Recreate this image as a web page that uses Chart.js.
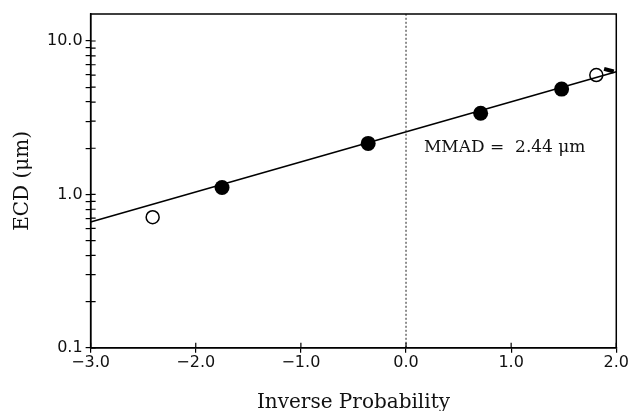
<!DOCTYPE html>
<html>
<head>
<meta charset="utf-8">
<script src="https://cdn.jsdelivr.net/npm/chart.js@4/dist/chart.umd.min.js"></script>
<style>
  body { margin: 0; background: #fff; }
  #wrap { width: 629px; height: 411px; }
</style>
</head>
<body>
<div id="wrap"><canvas id="ecd-chart"></canvas></div>
<script>
// datos
const filledX = [-1.75, -0.36, 0.71, 1.48];
const filledY = [1.11, 2.15, 3.38, 4.86];
const openX = [-2.41, 1.81];
const openY = [0.71, 6.0];
const markX = [1.93];
const markY = [6.45];
const fitX = [-3.0, 2.0];
const fitY = [0.66, 6.3];
const refX = [0.0, 0.0];
const refY = [0.1, 15];
const xTicks = [-3, -2, -1, 0, 1, 2];
const yTicks = [0.1, 0.2, 0.3, 0.4, 0.5, 0.6, 0.7, 0.8, 0.9, 1, 2, 3, 4, 5, 6, 7, 8, 9, 10];
const yLabels = [0.1, 1, 10];
const noteText = 'MMAD =  2.44 \u03BCm';
const notePos = [0.17, 2.03];

const toPoints = (xs, ys) => xs.map((x, i) => ({ x: x, y: ys[i] }));

// marco completo y marcas hacia dentro
const framePlugin = {
    id: 'frame',
    afterDraw(chart) {
        const ctx = chart.ctx;
        const a = chart.chartArea;
        const xs = chart.scales.x;
        const ys = chart.scales.y;
        ctx.save();
        ctx.strokeStyle = '#000';
        ctx.lineWidth = 1.5;
        ctx.strokeRect(a.left, a.top, a.right - a.left, a.bottom - a.top);
        ctx.lineWidth = 1.2;
        ctx.beginPath();
        xs.ticks.forEach(t => {
            const px = xs.getPixelForValue(t.value);
            ctx.moveTo(px, a.bottom);
            ctx.lineTo(px, a.bottom - 5);
        });
        ys.ticks.forEach(t => {
            const py = ys.getPixelForValue(t.value);
            ctx.moveTo(a.left, py);
            ctx.lineTo(a.left + 5, py);
        });
        ctx.stroke();
        // anotación
        ctx.fillStyle = '#111';
        ctx.font = '17px "DejaVu Serif"';
        ctx.textBaseline = 'middle';
        ctx.textAlign = 'left';
        ctx.fillText(noteText, xs.getPixelForValue(notePos[0]), ys.getPixelForValue(notePos[1]));
        ctx.restore();
    }
};

const ctx = document.getElementById('ecd-chart');
new Chart(ctx, {
    type: 'scatter',
    data: {
        datasets: [
            {
                data: toPoints(refX, refY),
                showLine: true,
                borderColor: '#222',
                borderWidth: 1,
                borderDash: [2, 2],
                pointRadius: 0
            },
            {
                data: toPoints(fitX, fitY),
                showLine: true,
                borderColor: '#000',
                borderWidth: 1.6,
                pointRadius: 0
            },
            {
                data: toPoints(filledX, filledY),
                backgroundColor: '#000',
                borderColor: '#000',
                pointRadius: 7.5,
                borderWidth: 0
            },
            {
                data: toPoints(openX, openY),
                backgroundColor: '#fff',
                borderColor: '#000',
                borderWidth: 1.5,
                pointRadius: 6.5
            },
            {
                data: toPoints(markX, markY),
                pointStyle: 'line',
                borderColor: '#000',
                borderWidth: 4,
                pointRadius: 5,
                rotation: 15
            }
        ]
    },
    options: {
        responsive: true,
        maintainAspectRatio: false,
        animation: false,
        clip: false,
        layout: { padding: { top: 14, right: 4, left: 10, bottom: -4 } },
        plugins: {
            legend: { display: false },
            tooltip: { enabled: false }
        },
        scales: {
            x: {
                type: 'linear',
                min: -3,
                max: 2,
                afterBuildTicks: scale => { scale.ticks = xTicks.map(v => ({ value: v })); },
                ticks: {
                    color: '#111',
                    font: { family: '"DejaVu Sans"', size: 16 },
                    padding: 0,
                    maxRotation: 0,
                    callback: v => (v < 0 ? '\u2212' + Math.abs(v).toFixed(1) : v.toFixed(1))
                },
                grid: { drawOnChartArea: false, drawTicks: true, tickLength: 5, color: '#000', lineWidth: 1.2 },
                border: { display: true, color: '#000', width: 1.5 },
                title: {
                    display: true,
                    text: 'Inverse Probability',
                    color: '#111',
                    font: { family: '"DejaVu Serif"', size: 20 },
                    padding: { top: 19, bottom: 0 }
                }
            },
            y: {
                type: 'logarithmic',
                min: 0.1,
                max: 15,
                afterBuildTicks: scale => { scale.ticks = yTicks.map(v => ({ value: v })); },
                ticks: {
                    color: '#111',
                    font: { family: '"DejaVu Sans"', size: 16 },
                    padding: 3,
                    autoSkip: false,
                    callback: v => (yLabels.some(l => Math.abs(l - v) < 1e-9) ? v.toFixed(1) : '')
                },
                grid: { drawOnChartArea: false, drawTicks: true, tickLength: 5, color: '#000', lineWidth: 1.2 },
                border: { display: true, color: '#000', width: 1.5 },
                title: {
                    display: true,
                    text: 'ECD (\u03BCm)',
                    color: '#111',
                    font: { family: '"DejaVu Serif"', size: 20 },
                    padding: { top: 1, bottom: 9 }
                }
            }
        }
    },
    plugins: [framePlugin]
});
</script>
</body>
</html>
